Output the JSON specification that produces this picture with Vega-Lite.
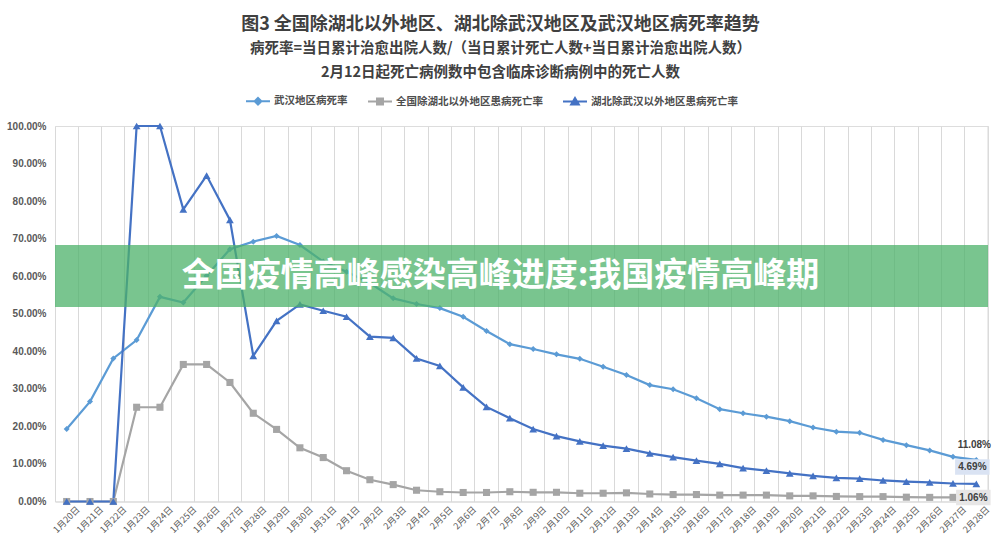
{
  "$schema": "https://vega.github.io/schema/vega-lite/v6.json",
  "autosize": {"type": "none"},
  "width": 933,
  "height": 375.5,
  "padding": {"left": 55, "top": 126, "right": 12, "bottom": 52},
  "background": "white",
  "config": {"axisY": {"labelOverlap": false, "tickCount": 11}},
  "title": {
    "text": "图3 全国除湖北以外地区、湖北除武汉地区及武汉地区病死率趋势",
    "subtitle": ["病死率=当日累计治愈出院人数/（当日累计死亡人数+当日累计治愈出院人数）", "2月12日起死亡病例数中包含临床诊断病例中的死亡人数"],
    "anchor": "middle",
    "frame": "group",
    "dx": -21,
    "offset": 9,
    "font": "Noto Sans CJK SC",
    "fontSize": 18,
    "fontWeight": "bold",
    "color": "#404040",
    "subtitleFont": "Noto Sans CJK SC",
    "subtitleFontSize": 14.5,
    "subtitleFontWeight": "bold",
    "subtitleColor": "#404040",
    "subtitleLineHeight": 24,
    "subtitlePadding": 8
  },
  "data": {
    "values": [
      {"d": "1月20日", "武汉地区病死率": 0.193, "全国除湖北以外地区患病死亡率": 0, "湖北除武汉以外地区患病死亡率": 0},
      {"d": "1月21日", "武汉地区病死率": 0.266, "全国除湖北以外地区患病死亡率": 0, "湖北除武汉以外地区患病死亡率": 0},
      {"d": "1月22日", "武汉地区病死率": 0.381, "全国除湖北以外地区患病死亡率": 0, "湖北除武汉以外地区患病死亡率": 0},
      {"d": "1月23日", "武汉地区病死率": 0.430, "全国除湖北以外地区患病死亡率": 0.251, "湖北除武汉以外地区患病死亡率": 1.0},
      {"d": "1月24日", "武汉地区病死率": 0.545, "全国除湖北以外地区患病死亡率": 0.251, "湖北除武汉以外地区患病死亡率": 1.0},
      {"d": "1月25日", "武汉地区病死率": 0.530, "全国除湖北以外地区患病死亡率": 0.365, "湖北除武汉以外地区患病死亡率": 0.778},
      {"d": "1月26日", "武汉地区病死率": 0.601, "全国除湖北以外地区患病死亡率": 0.365, "湖北除武汉以外地区患病死亡率": 0.868},
      {"d": "1月27日", "武汉地区病死率": 0.672, "全国除湖北以外地区患病死亡率": 0.317, "湖北除武汉以外地区患病死亡率": 0.750},
      {"d": "1月28日", "武汉地区病死率": 0.692, "全国除湖北以外地区患病死亡率": 0.235, "湖北除武汉以外地区患病死亡率": 0.388},
      {"d": "1月29日", "武汉地区病死率": 0.707, "全国除湖北以外地区患病死亡率": 0.192, "湖北除武汉以外地区患病死亡率": 0.481},
      {"d": "1月30日", "武汉地区病死率": 0.683, "全国除湖北以外地区患病死亡率": 0.143, "湖北除武汉以外地区患病死亡率": 0.525},
      {"d": "1月31日", "武汉地区病死率": 0.639, "全国除湖北以外地区患病死亡率": 0.117, "湖北除武汉以外地区患病死亡率": 0.508},
      {"d": "2月1日", "武汉地区病死率": 0.612, "全国除湖北以外地区患病死亡率": 0.082, "湖北除武汉以外地区患病死亡率": 0.492},
      {"d": "2月2日", "武汉地区病死率": 0.582, "全国除湖北以外地区患病死亡率": 0.058, "湖北除武汉以外地区患病死亡率": 0.439},
      {"d": "2月3日", "武汉地区病死率": 0.541, "全国除湖北以外地区患病死亡率": 0.045, "湖北除武汉以外地区患病死亡率": 0.436},
      {"d": "2月4日", "武汉地区病死率": 0.526, "全国除湖北以外地区患病死亡率": 0.030, "湖北除武汉以外地区患病死亡率": 0.381},
      {"d": "2月5日", "武汉地区病死率": 0.515, "全国除湖北以外地区患病死亡率": 0.026, "湖北除武汉以外地区患病死亡率": 0.361},
      {"d": "2月6日", "武汉地区病死率": 0.492, "全国除湖北以外地区患病死亡率": 0.024, "湖北除武汉以外地区患病死亡率": 0.304},
      {"d": "2月7日", "武汉地区病死率": 0.454, "全国除湖北以外地区患病死亡率": 0.024, "湖北除武汉以外地区患病死亡率": 0.252},
      {"d": "2月8日", "武汉地区病死率": 0.419, "全国除湖北以外地区患病死亡率": 0.026, "湖北除武汉以外地区患病死亡率": 0.222},
      {"d": "2月9日", "武汉地区病死率": 0.406, "全国除湖北以外地区患病死亡率": 0.0245, "湖北除武汉以外地区患病死亡率": 0.193},
      {"d": "2月10日", "武汉地区病死率": 0.392, "全国除湖北以外地区患病死亡率": 0.0245, "湖北除武汉以外地区患病死亡率": 0.174},
      {"d": "2月11日", "武汉地区病死率": 0.380, "全国除湖北以外地区患病死亡率": 0.022, "湖北除武汉以外地区患病死亡率": 0.160},
      {"d": "2月12日", "武汉地区病死率": 0.359, "全国除湖北以外地区患病死亡率": 0.022, "湖北除武汉以外地区患病死亡率": 0.149},
      {"d": "2月13日", "武汉地区病死率": 0.337, "全国除湖北以外地区患病死亡率": 0.023, "湖北除武汉以外地区患病死亡率": 0.141},
      {"d": "2月14日", "武汉地区病死率": 0.310, "全国除湖北以外地区患病死亡率": 0.020, "湖北除武汉以外地区患病死亡率": 0.128},
      {"d": "2月15日", "武汉地区病死率": 0.299, "全国除湖北以外地区患病死亡率": 0.0185, "湖北除武汉以外地区患病死亡率": 0.118},
      {"d": "2月16日", "武汉地区病死率": 0.275, "全国除湖北以外地区患病死亡率": 0.0185, "湖北除武汉以外地区患病死亡率": 0.109},
      {"d": "2月17日", "武汉地区病死率": 0.246, "全国除湖北以外地区患病死亡率": 0.017, "湖北除武汉以外地区患病死亡率": 0.100},
      {"d": "2月18日", "武汉地区病死率": 0.235, "全国除湖北以外地区患病死亡率": 0.017, "湖北除武汉以外地区患病死亡率": 0.089},
      {"d": "2月19日", "武汉地区病死率": 0.226, "全国除湖北以外地区患病死亡率": 0.017, "湖北除武汉以外地区患病死亡率": 0.082},
      {"d": "2月20日", "武汉地区病死率": 0.214, "全国除湖北以外地区患病死亡率": 0.015, "湖北除武汉以外地区患病死亡率": 0.075},
      {"d": "2月21日", "武汉地区病死率": 0.197, "全国除湖北以外地区患病死亡率": 0.015, "湖北除武汉以外地区患病死亡率": 0.068},
      {"d": "2月22日", "武汉地区病死率": 0.186, "全国除湖北以外地区患病死亡率": 0.0135, "湖北除武汉以外地区患病死亡率": 0.063},
      {"d": "2月23日", "武汉地区病死率": 0.183, "全国除湖北以外地区患病死亡率": 0.013, "湖北除武汉以外地区患病死亡率": 0.061},
      {"d": "2月24日", "武汉地区病死率": 0.164, "全国除湖北以外地区患病死亡率": 0.013, "湖北除武汉以外地区患病死亡率": 0.056},
      {"d": "2月25日", "武汉地区病死率": 0.150, "全国除湖北以外地区患病死亡率": 0.0115, "湖北除武汉以外地区患病死亡率": 0.053},
      {"d": "2月26日", "武汉地区病死率": 0.136, "全国除湖北以外地区患病死亡率": 0.011, "湖北除武汉以外地区患病死亡率": 0.051},
      {"d": "2月27日", "武汉地区病死率": 0.119, "全国除湖北以外地区患病死亡率": 0.011, "湖北除武汉以外地区患病死亡率": 0.048},
      {"d": "2月28日", "武汉地区病死率": 0.1108, "全国除湖北以外地区患病死亡率": 0.0106, "湖北除武汉以外地区患病死亡率": 0.0469}
    ]
  },
  "encoding": {
    "x": {
      "field": "d", "type": "ordinal", "sort": null,
      "scale": {"type": "band", "paddingInner": 0, "paddingOuter": 0},
      "axis": {
        "title": null, "bandPosition": 0, "labelOffset": 11.66,
        "labelAngle": -45, "labelAlign": "right", "labelBaseline": "middle",
        "labelFont": "Noto Sans CJK SC", "labelFontSize": 9, "labelColor": "#595959",
        "labelPadding": 6, "labelOverlap": false, "ticks": false, "domain": true, "domainColor": "#D9D9D9",
        "grid": true, "gridColor": "#D9D9D9", "gridWidth": 1
      }
    }
  },
  "layer": [
    {
      "transform": [{"fold": ["武汉地区病死率", "全国除湖北以外地区患病死亡率", "湖北除武汉以外地区患病死亡率"], "as": ["s", "v"]}],
      "mark": {"type": "line", "strokeWidth": 2.2},
      "encoding": {
        "x": {"field": "d", "type": "ordinal", "sort": null, "bandPosition": 0.5},
        "y": {
          "field": "v", "type": "quantitative",
          "scale": {"domain": [0, 1], "nice": false},
          "axis": {
            "title": null, "values": [0, 0.1, 0.2, 0.3, 0.4, 0.5, 0.6, 0.7, 0.8, 0.9, 1.0],
            "format": ".2%", "labelFont": "Liberation Sans", "labelFontWeight": "bold",
            "labelFontSize": 10, "labelColor": "#595959", "labelPadding": 9, "labelOverlap": false,
            "ticks": false, "domain": false, "grid": false
          }
        },
        "color": {
          "field": "s", "type": "nominal",
          "scale": {
            "domain": ["武汉地区病死率", "全国除湖北以外地区患病死亡率", "湖北除武汉以外地区患病死亡率"],
            "range": ["#5B9BD5", "#A5A5A5", "#4472C4"]
          },
          "legend": {
            "title": null, "orient": "none", "direction": "horizontal",
            "legendX": 190, "legendY": -38, "padding": 0,
            "columnPadding": 16, "symbolSize": 576, "symbolStrokeWidth": 2,
            "labelFont": "Noto Sans CJK SC", "labelFontSize": 10.5, "labelFontWeight": "bold",
            "labelColor": "#4D4D4D", "labelOffset": 3,
            "encode": {
              "symbols": {
                "update": {
                  "shape": {"signal": "datum.value === '武汉地区病死率' ? 'M-1,0H1M0,-0.28L0.28,0L0,0.28L-0.28,0Z' : (datum.value === '全国除湖北以外地区患病死亡率' ? 'M-1,0H1M-0.25,-0.25H0.25V0.25H-0.25Z' : 'M-1,0H1M0,-0.3L0.32,0.25H-0.32Z')"},
                  "size": {"value": 576},
                  "fill": {"signal": "scale('color', datum.value)"},
                  "stroke": {"signal": "scale('color', datum.value)"},
                  "strokeWidth": {"value": 2},
                  "opacity": {"value": 1}
                }
              }
            }
          }
        }
      }
    },
    {
      "transform": [{"filter": "datum.d === '2月28日'"}],
      "mark": {"type": "rule", "color": "#D9D9D9", "strokeWidth": 1},
      "encoding": {"x": {"field": "d", "type": "ordinal", "sort": null, "bandPosition": 1}}
    },
    {
      "transform": [{"fold": ["武汉地区病死率"], "as": ["s", "v"]}],
      "mark": {"type": "point", "filled": true, "opacity": 1, "shape": "diamond", "size": 36},
      "encoding": {
        "x": {"field": "d", "type": "ordinal", "sort": null, "bandPosition": 0.5},
        "y": {"field": "v", "type": "quantitative"},
        "color": {"field": "s", "type": "nominal", "legend": null}
      }
    },
    {
      "transform": [{"fold": ["全国除湖北以外地区患病死亡率"], "as": ["s", "v"]}],
      "mark": {"type": "point", "filled": true, "opacity": 1, "shape": "square", "size": 50},
      "encoding": {
        "x": {"field": "d", "type": "ordinal", "sort": null, "bandPosition": 0.5},
        "y": {"field": "v", "type": "quantitative"},
        "color": {"field": "s", "type": "nominal", "legend": null}
      }
    },
    {
      "transform": [{"fold": ["湖北除武汉以外地区患病死亡率"], "as": ["s", "v"]}],
      "mark": {"type": "point", "filled": true, "opacity": 1, "shape": "triangle-up", "size": 60},
      "encoding": {
        "x": {"field": "d", "type": "ordinal", "sort": null, "bandPosition": 0.5},
        "y": {"field": "v", "type": "quantitative"},
        "color": {"field": "s", "type": "nominal", "legend": null}
      }
    },
    {
      "transform": [{"filter": "datum.d === '2月28日'"}],
      "mark": {"type": "point", "filled": true, "opacity": 1, "shape": "M-1,-0.45H1V0.45H-1Z", "size": 1190, "color": "#DAE3F3", "yOffset": -17, "xOffset": -4},
      "encoding": {
        "x": {"field": "d", "type": "ordinal", "sort": null, "bandPosition": 0.5},
        "y": {"field": "湖北除武汉以外地区患病死亡率", "type": "quantitative"}
      }
    },
    {
      "transform": [{"filter": "datum.d === '2月28日'"}],
      "mark": {"type": "text", "font": "Liberation Sans", "fontWeight": "bold", "fontSize": 10, "color": "#404040", "dy": -17, "dx": -4},
      "encoding": {
        "x": {"field": "d", "type": "ordinal", "sort": null, "bandPosition": 0.5},
        "y": {"field": "湖北除武汉以外地区患病死亡率", "type": "quantitative"},
        "text": {"field": "湖北除武汉以外地区患病死亡率", "type": "quantitative", "format": ".2%"}
      }
    },
    {
      "transform": [{"filter": "datum.d === '2月28日'"}],
      "mark": {"type": "point", "filled": true, "opacity": 1, "shape": "M-1,-0.45H1V0.45H-1Z", "size": 1190, "color": "#E7E6E6", "xOffset": -3},
      "encoding": {
        "x": {"field": "d", "type": "ordinal", "sort": null, "bandPosition": 0.5},
        "y": {"field": "全国除湖北以外地区患病死亡率", "type": "quantitative"}
      }
    },
    {
      "transform": [{"filter": "datum.d === '2月28日'"}],
      "mark": {"type": "text", "font": "Liberation Sans", "fontWeight": "bold", "fontSize": 10, "color": "#404040", "dx": -3},
      "encoding": {
        "x": {"field": "d", "type": "ordinal", "sort": null, "bandPosition": 0.5},
        "y": {"field": "全国除湖北以外地区患病死亡率", "type": "quantitative"},
        "text": {"field": "全国除湖北以外地区患病死亡率", "type": "quantitative", "format": ".2%"}
      }
    },
    {
      "transform": [{"filter": "datum.d === '2月28日'"}],
      "mark": {"type": "text", "font": "Liberation Sans", "fontWeight": "bold", "fontSize": 10, "color": "#404040", "dy": -15, "dx": -2},
      "encoding": {
        "x": {"field": "d", "type": "ordinal", "sort": null, "bandPosition": 0.5},
        "y": {"field": "武汉地区病死率", "type": "quantitative"},
        "text": {"field": "武汉地区病死率", "type": "quantitative", "format": ".2%"}
      }
    },
    {
      "data": {"values": [{"banner": "全国疫情高峰感染高峰进度:我国疫情高峰期"}]},
      "mark": {"type": "rect", "color": "#4CB26A", "opacity": 0.75},
      "encoding": {
        "x": null,
        "y": {"datum": 0.683, "type": "quantitative"},
        "y2": {"datum": 0.518}
      }
    },
    {
      "data": {"values": [{"banner": "全国疫情高峰感染高峰进度:我国疫情高峰期"}]},
      "mark": {"type": "text", "color": "white", "font": "Noto Sans CJK SC", "fontWeight": "bold", "fontSize": 33, "baseline": "middle", "align": "center", "dx": -21},
      "encoding": {
        "x": null,
        "y": {"datum": 0.6, "type": "quantitative"},
        "text": {"field": "banner", "type": "nominal"}
      }
    }
  ]
}
